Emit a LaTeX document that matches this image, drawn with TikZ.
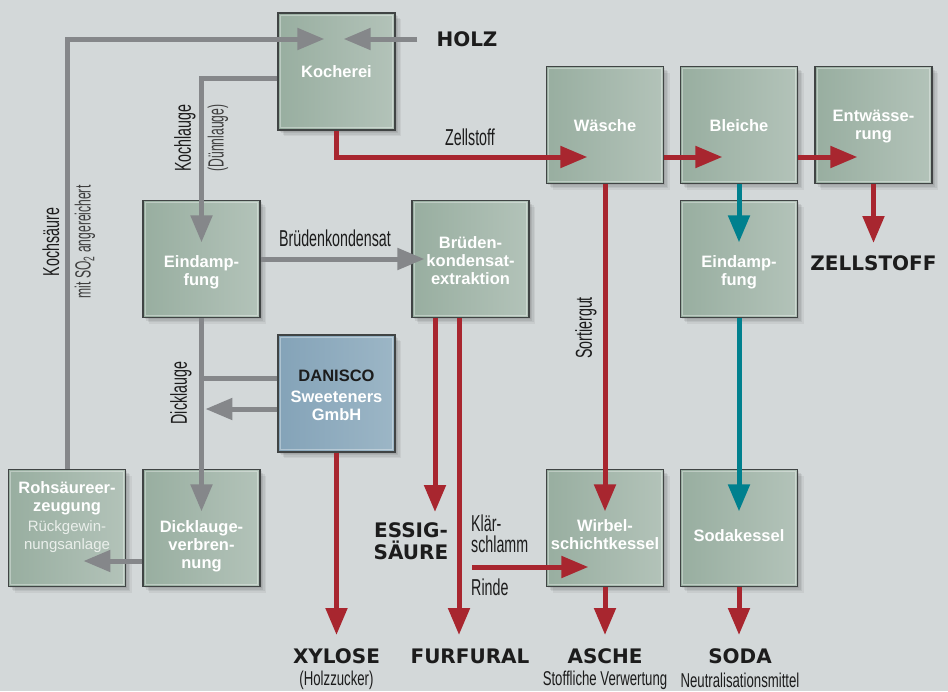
\documentclass[tikz,border=0pt]{standalone}
\usepackage{fontspec}
\setmainfont{Liberation Sans}
\newfontfamily\condf[FakeStretch=0.62]{Liberation Sans}
\newfontfamily\condsf[FakeStretch=0.66]{Liberation Sans}
\newfontfamily\condlf[FakeStretch=0.55]{Liberation Sans}
\newfontfamily\heavyf{DejaVu Sans}
\usetikzlibrary{arrows.meta,shadows}
\definecolor{bg}{HTML}{D3D8D9}
\definecolor{boxL}{HTML}{98AEA0}
\definecolor{boxR}{HTML}{B3C3B9}
\definecolor{danL}{HTML}{84A3B8}
\definecolor{danR}{HTML}{9CB6C6}
\definecolor{flowgray}{HTML}{85878A}
\definecolor{flowred}{HTML}{A8262F}
\definecolor{flowteal}{HTML}{00808E}
\definecolor{ink}{HTML}{1C1C1C}
\definecolor{frame}{HTML}{404444}
\definecolor{softwhite}{HTML}{EAEFEB}
\tikzset{
  softshadow/.style={
    general shadow={fill=black,opacity=0.07,shadow xshift=1.5pt,shadow yshift=-1.5pt},
    general shadow={fill=black,opacity=0.07,shadow xshift=3pt,shadow yshift=-3pt},
    general shadow={fill=black,opacity=0.06,shadow xshift=4.5pt,shadow yshift=-4.5pt},
    general shadow={fill=black,opacity=0.05,shadow xshift=6pt,shadow yshift=-6pt}},
  procbox/.style={rectangle, minimum width=117pt, minimum height=117pt, inner sep=0pt,
    draw=frame, line width=1.2pt, left color=boxL, right color=boxR, softshadow,
    path picture={\draw[white,opacity=0.35,line width=0.9pt]
      ([shift={(2.2pt,2.2pt)}]path picture bounding box.south west) rectangle
      ([shift={(-2.2pt,-2.2pt)}]path picture bounding box.north east);}},
  danbox/.style={procbox, left color=danL, right color=danR},
  boxtext/.style={text=white, font=\fontsize{16.5}{18}\selectfont\bfseries, align=center, inner sep=0pt},
  lab/.style={font=\condf\fontsize{23}{21}\selectfont, text=ink, inner sep=0pt},
  sublab/.style={font=\condsf\fontsize{20}{21}\selectfont, text=ink, inner sep=0pt},
  lablight/.style={font=\condlf\fontsize{22}{19}\selectfont, text=ink!85, inner sep=0pt},
  big/.style={font=\heavyf\bfseries\fontsize{20}{22}\selectfont, text=ink, inner sep=0pt, align=center},
  flow/.style={line width=5pt, -{Triangle[length=27pt,width=21pt]}},
  grayflow/.style={flow, draw=flowgray},
  redflow/.style={flow, draw=flowred},
  tealflow/.style={flow, draw=flowteal},
  grayline/.style={line width=5pt, draw=flowgray}
}
\begin{document}
\begin{tikzpicture}[x=1pt,y=-1pt]
\fill[bg] (0,0) rectangle (948,691);
\useasboundingbox (0,0) rectangle (948,691);

% boxes
\node[procbox] (koch) at (336.5,71.5) {};
\node[procbox] (waes) at (605,125) {};
\node[procbox] (blei) at (739,125) {};
\node[procbox] (entw) at (873.5,125) {};
\node[procbox] (eind1) at (201.5,259) {};
\node[procbox] (brue) at (470.5,259) {};
\node[procbox] (eind2) at (739,259) {};
\node[danbox] (dan) at (336.5,393.5) {};
\node[procbox] (rohs) at (67,528) {};
\node[procbox] (dick) at (201.5,528) {};
\node[procbox] (wirb) at (605,528) {};
\node[procbox] (soda) at (739,528) {};

% box texts
\node[boxtext] (koch-t) at (336.5,72) {Kocherei};
\node[boxtext] (waes-t) at (605,126) {Wäsche};
\node[boxtext] (blei-t) at (739,126) {Bleiche};
\node[boxtext] (entw-t) at (873.5,127) {Entwässe-\\rung};
\node[boxtext] (eind1-t) at (201.5,272) {Eindamp-\\fung};
\node[boxtext] (brue-t) at (470.5,261) {Brüden-\\kondensat-\\extraktion};
\node[boxtext] (eind2-t) at (739,272) {Eindamp-\\fung};
\node[boxtext] (dan-t) at (336.5,395) {{\color{ink}DANISCO}\\[3pt]Sweeteners\\GmbH};
\node[boxtext] (rohs-t) at (67,517) {Rohsäureer-\\zeugung\\[2pt]{\mdseries\fontsize{15}{18}\selectfont\color{softwhite}Rückgewin-}\\{\mdseries\fontsize{15}{18}\selectfont\color{softwhite}nungsanlage}};
\node[boxtext] (dick-t) at (201.5,546) {Dicklauge-\\verbren-\\nung};
\node[boxtext] (wirb-t) at (605,535) {Wirbel-\\schichtkessel};
\node[boxtext] (soda-t) at (739,536) {Sodakessel};

% outside labels
\node[big] (holz) at (467,39) {HOLZ};
\node[big] (zell) at (873.5,263) {ZELLSTOFF};
\node[big] (essig) at (411,541) {ESSIG-\\SÄURE};
\node[big] (xyl) at (336.5,656) {XYLOSE};
\node[sublab] (xyl-s) at (336.5,680) {(Holzzucker)};
\node[big] (furf) at (470,656) {FURFURAL};
\node[big] (asche) at (605,656) {ASCHE};
\node[sublab] (asche-s) at (605,680) {Stoffliche Verwertung};
\node[big] (sodal) at (740,656) {SODA};
\node[sublab] (soda-s) at (740,680) {Neutralisationsmittel};

\node[lab, rotate=90] (l-kochs) at (51,242) {Kochsäure};
\node[lablight, rotate=90] (l-so2) at (85,242) {mit SO\textsubscript{2} angereichert};
\node[lab, rotate=90] (l-kochl) at (185,138) {Kochlauge};
\node[lablight, rotate=90] (l-duenn) at (218,138) {(Dünnlauge)};
\node[lab, rotate=90] (l-dick) at (181,393) {Dicklauge};
\node[lab, rotate=90] (l-sort) at (586,328) {Sortiergut};
\node[lab] (l-zell) at (470,137) {Zellstoff};
\node[lab] (l-brue) at (335,238) {Brüdenkondensat};
\node[lab, align=left, anchor=west] (l-klaer) at (471,534) {Klär-\\schlamm};
\node[lab, anchor=west] (l-rinde) at (471,587) {Rinde};

% free ends
\coordinate (essig-in) at (435,512);
\coordinate (furf-in) at (459,635);
\coordinate (xyl-in) at (336.5,635);
\coordinate (asche-in) at (605,635);
\coordinate (soda-in) at (739,635);
\coordinate (zell-in) at (873.5,243);
\coordinate (kl-start) at (472,567);

% gray connectors
\draw[grayflow] (rohs.north) |- ([xshift=47pt,yshift=32.5pt]koch.west);
\draw[grayflow] ([xshift=-19pt]holz.west) -- ([xshift=-52pt,yshift=32.5pt]koch.east);
\draw[grayflow] ([yshift=-6.5pt]koch.west) -| ([yshift=-42.5pt]eind1.north);
\draw[grayflow] (eind1.east) -- ([xshift=13pt]brue.west);
\draw[grayflow] (eind1.south) -- ([yshift=-42.5pt]dick.north);
\draw[grayline] ([yshift=15.5pt]dan.west) -- ++(-76.5,0);
\draw[grayflow] ([yshift=-15.5pt]dan.west) -- ++(-72,0);
\draw[grayflow] ([yshift=-33pt]dick.west) -- ([xshift=75.5pt,yshift=-33pt]rohs.west);

% red connectors
\draw[redflow] (koch.south) |- ([xshift=41.5pt,yshift=-32pt]waes.west);
\draw[redflow] ([yshift=-32pt]waes.east) -- ([xshift=42.5pt,yshift=-32pt]blei.west);
\draw[redflow] ([yshift=-32pt]blei.east) -- ([xshift=43pt,yshift=-32pt]entw.west);
\draw[redflow] (entw.south) -- (zell-in);
\draw[redflow] (waes.south) -- ([yshift=-42.5pt]wirb.north);
\draw[redflow] ([xshift=-35.5pt]brue.south) -- (essig-in);
\draw[redflow] ([xshift=-11.5pt]brue.south) -- (furf-in);
\draw[redflow] (dan.south) -- (xyl-in);
\draw[redflow] (kl-start) -- ([xshift=42.5pt,yshift=-39pt]wirb.west);
\draw[redflow] (wirb.south) -- (asche-in);
\draw[redflow] (soda.south) -- (soda-in);

% teal connectors
\draw[tealflow] (blei.south) -- ([yshift=-42.5pt]eind2.north);
\draw[tealflow] (eind2.south) -- ([yshift=-42.5pt]soda.north);
\end{tikzpicture}
\end{document}
